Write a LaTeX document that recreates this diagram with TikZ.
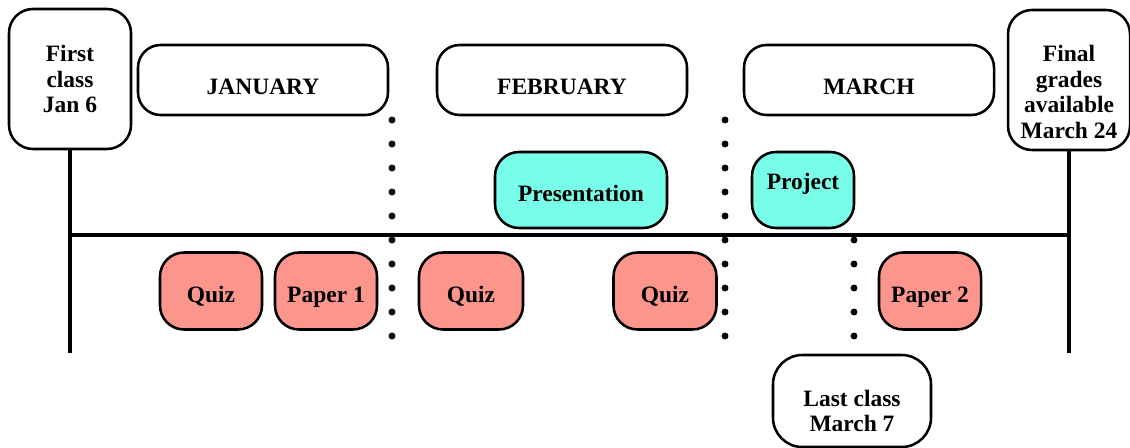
\documentclass[tikz,border=0pt]{standalone}
\usepackage{fontspec}
\setmainfont{Liberation Serif}
\usepackage{xcolor}
\definecolor{taskcyan}{RGB}{120,254,232}
\definecolor{testred}{RGB}{252,150,140}

\begin{document}
\begin{tikzpicture}[x=0.75pt,y=-0.75pt,
  every node/.style={font=\fontsize{17.6}{19.1}\selectfont\bfseries, align=center, inner sep=0pt},
  datebox/.style={draw, line width=1.9pt, rounded corners=18pt, fill=white},
  monthbox/.style={draw, line width=1.9pt, rounded corners=17pt, minimum width=250*0.75pt, minimum height=70*0.75pt, text height=22pt, text depth=0pt},
  taskbox/.style={draw, line width=1.9pt, rounded corners=18pt, fill=taskcyan, minimum height=76*0.75pt, text height=18pt, text depth=0pt},
  testbox/.style={draw, line width=1.9pt, rounded corners=18pt, fill=testred, minimum width=102*0.75pt, minimum height=77*0.75pt, text height=18pt, text depth=0pt},
  mainline/.style={line width=3pt},
  dotline/.style={line width=5.2pt, line cap=round, dash pattern=on 0pt off 18pt}]
  \useasboundingbox (0,0) rectangle (1130,448);

  % Start and end boxes
  \node[datebox, minimum width=122*0.75pt, minimum height=140*0.75pt] (first) at (70,79) {First\\class\\Jan 6};
  \node[datebox, minimum width=122*0.75pt, minimum height=140*0.75pt] (final) at (1069,80) {\rule{0pt}{30pt}Final\\grades\\available\\March 24};
  \node[datebox, rounded corners=22pt, minimum width=158*0.75pt, minimum height=92*0.75pt] (last) at (852,401) {\rule{0pt}{27pt}Last class\\March 7};

  % Months
  \node[monthbox] (jan) at (263,80) {JANUARY};
  \node[monthbox] (feb) at (562,80) {FEBRUARY};
  \node[monthbox] (mar) at (869,80) {MARCH};

  % Draw timeline
  \coordinate (firstend) at (70,353);
  \coordinate (finalend) at (1069,353);
  \coordinate (lineL) at (70,235);
  \coordinate (lineR) at (1067,235);
  \draw[mainline] (first.south) -- (firstend);
  \draw[mainline] (final.south) -- (finalend);
  \draw[mainline] (lineL) -- (lineR);

  % Month borders
  \foreach \n/\x/\t in {janfeb/392/120, febmar/725/120, lastday/854/240}{
    \coordinate (\n top) at (\x,\t);
    \coordinate (\n bot) at (\x,336.5);
    \draw[dotline] (\n top) -- (\n bot);
  }

  % Assignments
  \node[taskbox, minimum width=172*0.75pt] (pres) at (581,190) {Presentation};
  \node[taskbox, minimum width=102*0.75pt, text height=12pt, text depth=12pt] (proj) at (803,190) {Project};

  % Tests
  \node[testbox] (quiza) at (211,291) {Quiz};
  \node[testbox] (papera) at (326,291) {Paper 1};
  \node[testbox, minimum width=104*0.75pt] (quizb) at (471,291) {Quiz};
  \node[testbox, minimum width=103*0.75pt] (quizc) at (665,291) {Quiz};
  \node[testbox] (paperb) at (930,291) {Paper 2};
\end{tikzpicture}
\end{document}
